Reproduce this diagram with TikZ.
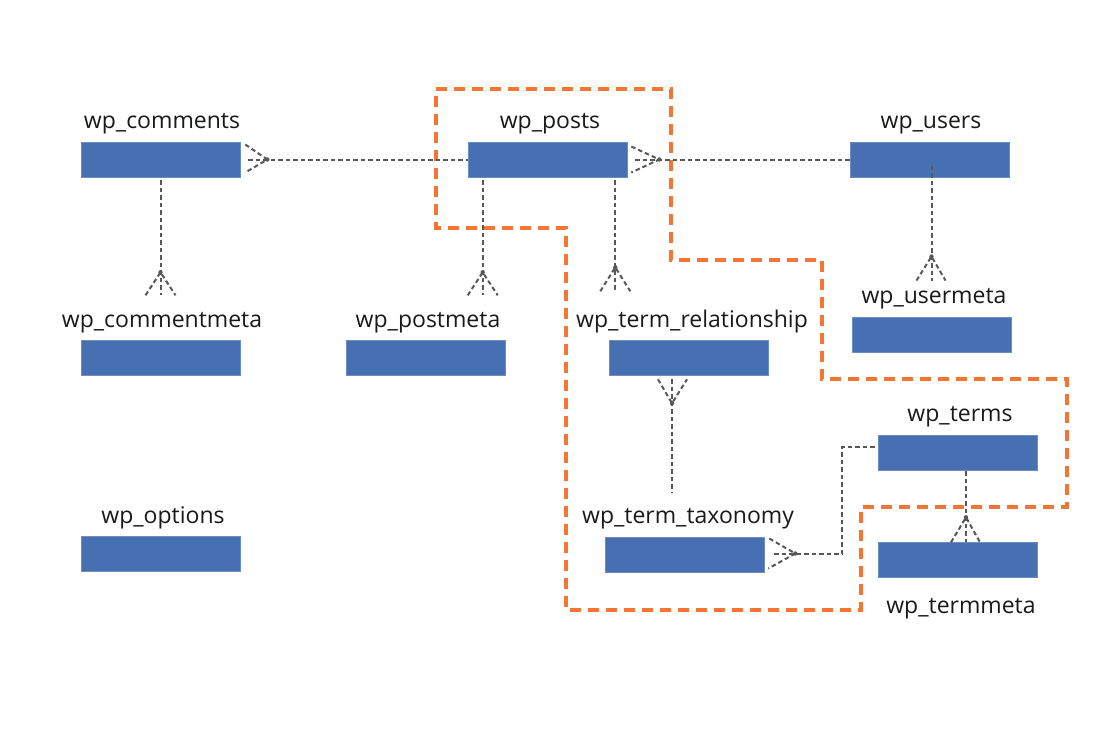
\documentclass[tikz,border=0pt]{standalone}
\usepackage{fontspec}
\setmainfont{Open Sans}
\usetikzlibrary{calc}
\definecolor{boxblue}{RGB}{71,112,178}
\definecolor{relgray}{RGB}{88,88,92}
\definecolor{zone}{RGB}{245,118,52}
\tikzset{
  table/.style={fill=boxblue, draw=boxblue!80!white, line width=0.6pt, minimum width=159pt, minimum height=35pt, inner sep=0pt},
  tlabel/.style={anchor=base, font=\fontsize{23}{26}\selectfont, text=black!90, inner sep=0pt},
  rel/.style={draw=relgray, line width=2pt, dash pattern=on 4.5pt off 3pt},
  apexdot/.style={fill=relgray},
  zoneline/.style={draw=zone, line width=3.6pt, dash pattern=on 11pt off 7pt}
}
\begin{document}
\begin{tikzpicture}[x=1pt,y=-1pt]
\useasboundingbox (0,0) rectangle (1112,732);
% tables
\node[table] (comments) at (160.5,159.5) {};
\node[table] (posts) at (547.5,159.5) {};
\node[table] (users) at (929.5,159.5) {};
\node[table] (cmeta) at (160.5,357.5) {};
\node[table] (pmeta) at (425.5,357.5) {};
\node[table] (termrel) at (689,357.5) {};
\node[table] (umeta) at (931.5,334.5) {};
\node[table] (terms) at (957.5,452.5) {};
\node[table] (options) at (160.5,553.5) {};
\node[table] (taxonomy) at (684.5,554.5) {};
\node[table] (tmeta) at (957.5,559.5) {};
% labels
\node[tlabel] (comments-l) at (162,128) {wp\_comments};
\node[tlabel] (posts-l) at (550,128) {wp\_posts};
\node[tlabel] (users-l) at (931,128) {wp\_users};
\node[tlabel] (cmeta-l) at (162,327) {wp\_commentmeta};
\node[tlabel] (pmeta-l) at (428,327) {wp\_postmeta};
\node[tlabel] (termrel-l) at (692,327) {wp\_term\_relationship};
\node[tlabel] (umeta-l) at (934,303) {wp\_usermeta};
\node[tlabel] (terms-l) at (960,421) {wp\_terms};
\node[tlabel] (options-l) at (163,523) {wp\_options};
\node[tlabel] (taxonomy-l) at (688,523) {wp\_term\_taxonomy};
\node[tlabel] (tmeta-l) at (961,613) {wp\_termmeta};
% highlighted zone
\draw[zoneline] (436,89) -- (671,89) -- (671,260) -- (822,260) -- (822,379) -- (1067,379)
  -- (1067,507) -- (861,507) -- (861,610) -- (566,610) -- (566,228) -- (436,228) -- cycle;
% comments -- posts
\draw[rel] ($(comments.east)+(8,0)$) -- (posts.west);
\draw[rel] ($(comments.east)+(5,-15)$) -- ($(comments.east)+(27,0)$) -- ($(comments.east)+(5,13)$);
\fill[apexdot] ($(comments.east)+(27,0)$) circle (2.2pt);
% posts -- users
\draw[rel] ($(posts.east)+(8,0)$) -- (users.west);
\draw[rel] ($(posts.east)+(4,-13)$) -- ($(posts.east)+(32,0)$) -- ($(posts.east)+(4,13)$);
\fill[apexdot] ($(posts.east)+(32,0)$) circle (2.2pt);
% comments -- commentmeta
\coordinate (c1) at ($(comments.south)+(0,3)$);
\coordinate (c1a) at ($(comments.south)+(0,95)$);
\draw[rel] (c1) -- ($(c1a)+(0,23)$);
\draw[rel] ($(c1a)+(-15,23)$) -- (c1a) -- ($(c1a)+(15,23)$);
\fill[apexdot] (c1a) circle (2.2pt);
% posts -- postmeta
\coordinate (p1) at ($(posts.south west)+(15,3)$);
\coordinate (p1a) at ($(posts.south west)+(15,95)$);
\draw[rel] (p1) -- ($(p1a)+(0,23)$);
\draw[rel] ($(p1a)+(-15,23)$) -- (p1a) -- ($(p1a)+(15,23)$);
\fill[apexdot] (p1a) circle (2.2pt);
% posts -- term_relationship
\coordinate (p2) at ($(posts.south east)+(-12,3)$);
\coordinate (p2a) at ($(posts.south east)+(-12,90)$);
\draw[rel] (p2) -- ($(p2a)+(0,24)$);
\draw[rel] ($(p2a)+(-15,24)$) -- (p2a) -- ($(p2a)+(15,24)$);
\fill[apexdot] (p2a) circle (2.2pt);
% users -- usermeta
\coordinate (u1) at ($(users.center)+(2,6)$);
\coordinate (u1a) at ($(users.center)+(2,97)$);
\draw[rel] (u1) -- ($(u1a)+(0,24)$);
\draw[rel] ($(u1a)+(-15,24)$) -- (u1a) -- ($(u1a)+(14,24)$);
\fill[apexdot] (u1a) circle (2.2pt);
% term_relationship -- term_taxonomy
\coordinate (t1) at ($(termrel.south)+(-17,4)$);
\coordinate (t1a) at ($(termrel.south)+(-17,28)$);
\draw[rel] (t1) -- ($(t1)+(0,113)$);
\draw[rel] ($(t1)+(-14,0)$) -- (t1a) -- ($(t1)+(15,0)$);
\fill[apexdot] (t1a) circle (2.2pt);
% term_taxonomy -- terms
\coordinate (x1) at ($(taxonomy.east)+(31,-1)$);
\coordinate (x2) at ($(taxonomy.east)+(78,-1)$);
\draw[rel] ($(taxonomy.east)+(10,-1)$) -- (x2) |- ($(terms.west)+(0,-5.5)$);
\draw[rel] ($(taxonomy.east)+(5,-16)$) -- (x1) -- ($(taxonomy.east)+(4,14)$);
\fill[apexdot] (x1) circle (2.2pt);
% terms -- termmeta
\coordinate (m1) at ($(terms.south)+(8.5,1)$);
\coordinate (m1a) at ($(terms.south)+(8.5,47)$);
\draw[rel] (m1) -- ($(m1a)+(0,25)$);
\draw[rel] ($(m1a)+(-15,25)$) -- (m1a) -- ($(m1a)+(14,25)$);
\fill[apexdot] (m1a) circle (2.2pt);
\end{tikzpicture}
\end{document}
